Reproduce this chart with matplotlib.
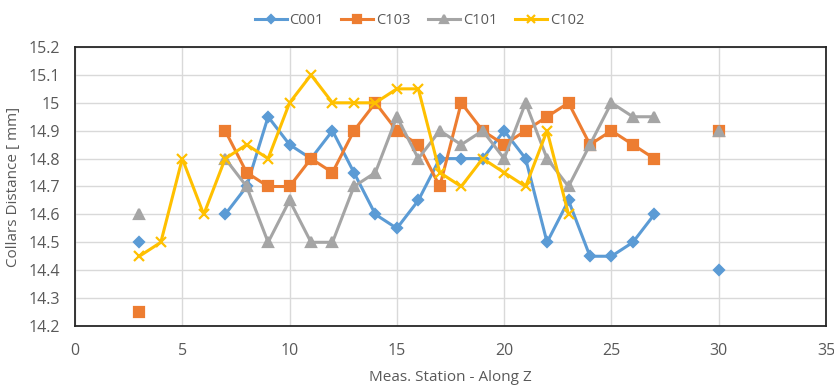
import numpy as np
import matplotlib
matplotlib.use("Agg")
import matplotlib.pyplot as plt
from matplotlib.ticker import FuncFormatter, MultipleLocator

plt.rcParams['font.family'] = ['Open Sans', 'DejaVu Sans']

nan = np.nan

# Measurement stations along Z
stations = list(range(3, 31))

# Collar distances [mm] per station (NaN = no measurement)
c001 = [14.5, nan, nan, nan, 14.6, 14.7, 14.95, 14.85, 14.8, 14.9, 14.75, 14.6, 14.55, 14.65,
        14.8, 14.8, 14.8, 14.9, 14.8, 14.5, 14.65, 14.45, 14.45, 14.5, 14.6, nan, nan, 14.4]
c103 = [14.25, nan, nan, nan, 14.9, 14.75, 14.7, 14.7, 14.8, 14.75, 14.9, 15.0, 14.9, 14.85,
        14.7, 15.0, 14.9, 14.85, 14.9, 14.95, 15.0, 14.85, 14.9, 14.85, 14.8, nan, nan, 14.9]
c101 = [14.6, nan, nan, nan, 14.8, 14.7, 14.5, 14.65, 14.5, 14.5, 14.7, 14.75, 14.95, 14.8,
        14.9, 14.85, 14.9, 14.8, 15.0, 14.8, 14.7, 14.85, 15.0, 14.95, 14.95, nan, nan, 14.9]
c102 = [14.45, 14.5, 14.8, 14.6, 14.8, 14.85, 14.8, 15.0, 15.1, 15.0, 15.0, 15.0, 15.05, 15.05,
        14.75, 14.7, 14.8, 14.75, 14.7, 14.9, 14.6, nan, nan, nan, nan, nan, nan, nan]

series = [
    ("C001", c001, "#5B9BD5", "D", 5.5),
    ("C103", c103, "#ED7D31", "s", 7.5),
    ("C101", c101, "#A5A5A5", "^", 7.5),
    ("C102", c102, "#FFC000", "x", 7.5),
]

fig = plt.figure(figsize=(8.34, 3.85), dpi=100)
ax = fig.add_axes([75 / 834, 1 - 326 / 385, (826 - 75) / 834, (326 - 47) / 385])

for name, vals, color, marker, ms in series:
    ax.plot(stations, vals, color=color, lw=2.2, marker=marker, ms=ms,
            mec=color, mfc=color, mew=1.6, label=name, zorder=3)

ax.set_xlim(0, 35)
ax.set_ylim(14.2, 15.2)
ax.xaxis.set_major_locator(MultipleLocator(5))
ax.yaxis.set_major_locator(MultipleLocator(0.1))
ax.yaxis.set_major_formatter(FuncFormatter(lambda v, p: f"{round(v, 2):g}"))

ax.grid(True, color="#D9D9D9", lw=1.0, zorder=0)
ax.set_axisbelow(True)
for sp in ax.spines.values():
    sp.set_color("#262626")
    sp.set_linewidth(1.3)

ax.tick_params(axis="both", length=0, labelsize=11.5, colors="#595959")
ax.tick_params(axis="y", pad=11)
ax.tick_params(axis="x", pad=12)
ax.set_xlabel("Meas. Station - Along Z", fontsize=11, color="#595959", labelpad=8)
ax.set_ylabel("Collars Distance [ mm]", fontsize=11, color="#595959", labelpad=5)

fig.legend(loc="upper center", bbox_to_anchor=(0.503, 1.0), ncol=4, frameon=False,
           fontsize=10.5, labelcolor="#595959", handlelength=2.2, handletextpad=0.2,
           columnspacing=1.2, markerscale=0.7)

fig.savefig("out.png", dpi=100)
